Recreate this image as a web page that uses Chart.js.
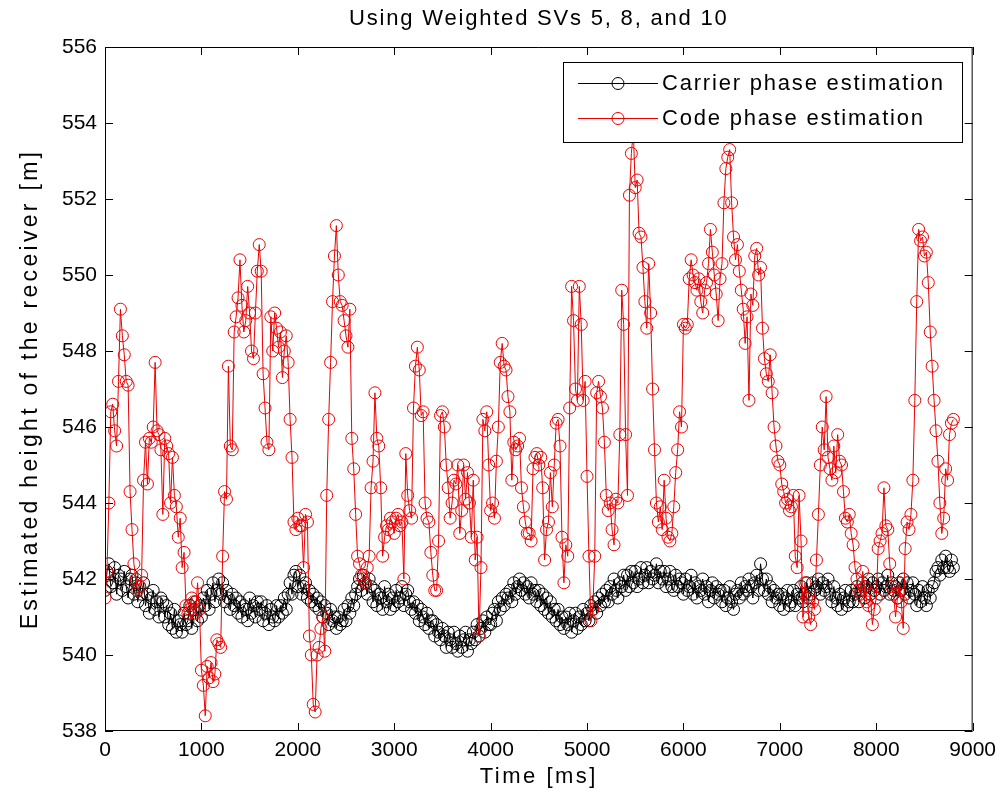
<!DOCTYPE html>
<html>
<head>
<meta charset="utf-8">
<script src="https://cdn.jsdelivr.net/npm/chart.js@4.4.1/dist/chart.umd.min.js"></script>
<style>
  html, body { margin: 0; padding: 0; background: #fff; }
  #plot { display: block; }
</style>
</head>
<body>
<canvas id="plot" width="1003" height="800"></canvas>
<script>
// sampled every 20 ms, 0 .. 8800 ms
const SAMPLE_MS = 20;

const carrierPhase = [
  541.7, 542.2, 542.4, 541.8, 541.9, 542.3, 541.6, 542.1, 542.0, 541.7,
  542.2, 541.8, 541.5, 542.0, 542.1, 541.6, 541.9, 541.4, 541.8, 541.6,
  541.9, 541.3, 541.6, 541.1, 541.5, 541.7, 541.2, 541.4, 541.0, 541.5,
  541.4, 541.0, 541.3, 540.8, 541.1, 540.7, 541.2, 540.6, 540.9, 540.8,
  540.6, 541.1, 540.8, 540.9, 541.3, 540.7, 541.2, 541.4, 540.9, 541.3,
  541.0, 541.5, 541.3, 541.7, 541.2, 541.6, 541.9, 541.4, 541.7, 542.0,
  541.6, 541.9, 541.4, 541.7, 541.5, 541.2, 541.6, 541.3, 541.5, 541.1,
  541.4, 541.0, 541.3, 541.2, 540.9, 541.5, 541.1, 541.3, 541.0, 541.4,
  541.2, 541.4, 540.9, 541.1, 541.3, 540.8, 541.2, 541.0, 540.9, 541.3,
  541.0, 541.3, 541.1, 541.5, 541.2, 541.6, 541.9, 541.6, 542.1, 542.2,
  541.8, 542.1, 541.6, 541.8, 541.9, 541.5, 541.7, 541.4, 541.6, 541.3,
  541.5, 541.2, 541.4, 541.0, 541.3, 541.1, 540.8, 541.2, 540.9, 541.0,
  540.7, 541.0, 540.8, 540.9, 541.2, 540.9, 541.3, 541.1, 541.5, 541.3,
  541.6, 541.8, 542.0, 541.7, 542.1, 541.9, 541.6, 542.0, 541.8, 541.4,
  541.7, 541.3, 541.6, 541.5, 541.2, 541.8, 541.4, 541.6, 541.2, 541.5,
  541.3, 541.7, 541.4, 541.5, 541.8, 541.3, 541.6, 541.7, 541.4, 541.2,
  541.4, 541.1, 541.3, 540.9, 541.2, 541.0, 540.8, 541.1, 540.7, 540.9,
  540.9, 540.5, 540.8, 540.6, 540.4, 540.7, 540.5, 540.2, 540.6, 540.4,
  540.2, 540.6, 540.3, 540.1, 540.5, 540.2, 540.4, 540.6, 540.1, 540.4,
  540.3, 540.6, 540.4, 540.8, 540.5, 540.7, 540.9, 540.6, 541.0, 540.8,
  540.8, 541.1, 541.2, 540.9, 541.4, 541.2, 541.5, 541.3, 541.6, 541.5,
  541.7, 541.4, 541.9, 541.6, 541.8, 542.0, 541.7, 541.9, 541.6, 541.8,
  541.5, 541.9, 541.6, 541.7, 541.4, 541.7, 541.3, 541.6, 541.2, 541.5,
  541.1, 541.4, 541.0, 541.2, 540.9, 541.2, 540.8, 541.0, 540.7, 541.0,
  540.8, 541.1, 540.6, 540.9, 541.1, 540.7, 541.0, 540.8, 541.2, 540.9,
  541.1, 540.9, 541.3, 541.2, 541.4, 541.1, 541.5, 541.3, 541.6, 541.4,
  541.7, 541.4, 541.8, 541.6, 542.0, 541.7, 541.5, 541.9, 541.8, 542.1,
  541.7, 542.1, 541.8, 542.2, 541.9, 542.2, 541.8, 542.0, 542.3, 541.9,
  542.1, 542.3, 541.9, 542.2, 542.0, 542.1, 542.4, 541.9, 542.2, 542.0,
  542.2, 541.8, 542.0, 542.2, 541.8, 541.7, 542.1, 541.8, 542.0, 541.9,
  541.6, 542.0, 541.7, 541.8, 542.1, 541.6, 541.9, 541.5, 541.8, 541.7,
  542.0, 541.6, 541.8, 541.4, 541.7, 541.9, 541.5, 541.8, 541.6, 541.7,
  541.4, 541.7, 541.3, 541.5, 541.8, 541.4, 541.2, 541.6, 541.7, 541.5,
  541.9, 541.6, 541.8, 541.7, 542.0, 541.8, 541.5, 541.9, 542.1, 541.7,
  542.4, 542.0, 541.7, 542.0, 541.6, 541.8, 541.4, 541.7, 541.5, 541.6,
  541.3, 541.6, 541.2, 541.5, 541.7, 541.3, 541.4, 541.7, 541.3, 541.6,
  541.5, 541.8, 541.4, 541.6, 541.9, 541.5, 541.6, 541.9, 541.7, 541.8,
  542.0, 541.6, 541.9, 541.7, 541.8, 542.0, 541.6, 541.4, 541.8, 541.5,
  541.3, 541.6, 541.2, 541.5, 541.7, 541.3, 541.4, 541.7, 541.4, 541.6,
  541.8, 541.4, 541.7, 541.9, 541.5, 541.8, 542.0, 541.6, 541.9, 541.7,
  541.8, 542.0, 541.6, 541.9, 541.7, 541.8, 542.1, 541.6, 541.9, 541.7,
  541.8, 541.5, 541.9, 541.7, 542.0, 541.6, 541.9, 541.5, 541.7, 541.9,
  541.6, 541.3, 541.7, 541.4, 541.8, 541.5, 541.3, 541.7, 541.5, 541.8,
  541.9, 542.2, 542.3, 542.1, 542.5, 542.3, 542.6, 542.3, 542.2, 542.5,
  542.3
];

const codePhase = [
  541.5, 542.2, 544.0, 546.4, 546.6, 545.9, 545.5, 547.2, 549.1, 548.4,
  547.9, 547.2, 547.1, 544.3, 543.3, 542.4, 542.0, 541.7, 541.8, 542.1,
  544.6, 545.6, 544.5, 545.7, 545.6, 546.0, 547.7, 545.9, 545.8, 545.4,
  543.7, 545.7, 545.5, 545.3, 544.0, 545.2, 544.2, 543.9, 543.1, 543.6,
  542.3, 542.7, 541.3, 541.1, 541.2, 541.5, 541.4, 541.1, 541.9, 541.2,
  539.6, 539.2, 538.4, 539.7, 539.4, 539.8, 539.3, 539.5, 540.4, 540.3,
  540.2, 542.6, 544.3, 544.1, 547.6, 545.5, 545.4, 548.5, 548.9, 549.4,
  550.4, 549.2, 548.5, 548.8, 549.7, 549.0, 548.0, 547.8, 549.0, 550.1,
  550.8, 550.1, 547.4, 546.5, 545.6, 545.4, 548.9, 548.0, 549.0, 548.6,
  548.1, 548.5, 547.3, 548.0, 548.4, 547.7, 546.2, 545.2, 543.5, 543.3,
  543.6, 543.4, 543.4, 542.3, 543.7, 543.5, 540.5, 540.0, 538.7, 538.5,
  540.0, 540.2, 540.7, 541.0, 540.1, 544.2, 546.2, 547.7, 549.3, 550.5,
  551.3, 550.0, 549.3, 549.2, 548.8, 548.4, 548.1, 549.1, 545.7, 544.9,
  543.7, 542.6, 542.4, 542.1, 542.0, 541.9, 542.3, 542.6, 544.4, 545.1,
  546.9, 545.7, 545.5, 544.4, 542.6, 543.1, 543.4, 543.3, 543.6, 543.5,
  543.2, 543.6, 543.7, 543.4, 543.5, 542.0, 545.3, 544.2, 543.8, 543.6,
  546.5, 547.6, 548.1, 547.5, 546.3, 546.4, 544.0, 543.6, 543.5, 542.7,
  542.1, 541.7, 541.7, 543.0, 546.3, 546.4, 546.0, 545.0, 544.4, 543.6,
  544.0, 544.6, 544.5, 545.0, 543.2, 543.8, 545.0, 544.1, 544.8, 544.0,
  543.1, 544.6, 542.5, 543.1, 540.5, 542.3, 546.2, 545.9, 546.4, 545.0,
  543.8, 544.0, 543.6, 545.1, 546.0, 547.7, 548.2, 547.6, 547.5, 546.8,
  546.4, 544.6, 545.6, 545.4, 545.5, 545.7, 544.4, 543.9, 543.5, 543.2,
  543.2, 543.0, 544.9, 545.2, 545.3, 545.0, 545.2, 544.4, 542.5, 543.3,
  543.5, 544.8, 543.9, 545.0, 546.1, 546.2, 545.5, 543.1, 541.9, 542.9,
  542.6, 546.5, 549.7, 548.8, 547.0, 546.7, 549.7, 548.7, 546.7, 547.2,
  544.7, 542.6, 540.9, 541.2, 542.6, 546.9, 547.2, 546.8, 546.5, 545.6,
  544.2, 543.8, 544.0, 543.3, 542.9, 544.1, 544.0, 545.8, 549.6, 548.7,
  545.8, 544.2, 552.1, 553.2, 553.8, 552.3, 552.5, 551.1, 551.0, 550.2,
  549.3, 548.6, 550.3, 549.0, 547.0, 545.4, 544.0, 543.5, 543.9, 543.3,
  544.6, 543.6, 543.1, 543.0, 543.2, 543.9, 544.8, 545.4, 546.4, 546.0,
  548.7, 548.6, 548.7, 549.9, 550.4, 550.0, 549.8, 549.6, 549.9, 549.3,
  549.0, 549.6, 549.8, 550.3, 551.2, 550.6, 550.0, 549.5, 548.8, 549.9,
  550.3, 551.9, 552.8, 553.1, 553.3, 551.9, 551.0, 550.4, 550.8, 550.1,
  549.6, 549.1, 548.2, 548.9, 546.7, 549.5, 549.2, 550.5, 550.7, 550.0,
  550.2, 548.6, 547.8, 547.4, 547.2, 547.9, 546.9, 546.0, 545.5, 545.1,
  545.0, 544.5, 544.3, 544.0, 544.1, 543.8, 543.9, 544.2, 542.6, 542.3,
  544.2, 543.0, 541.0, 541.9, 541.5, 541.0, 540.8, 541.4, 541.2, 542.5,
  543.7, 545.0, 546.0, 545.4, 546.8, 545.2, 544.9, 544.6, 545.5, 544.8,
  545.8, 545.1, 545.0, 544.3, 543.6, 543.5, 543.7, 543.2, 542.9, 542.3,
  542.0, 541.7, 541.6, 542.2, 541.8, 541.4, 541.3, 541.6, 540.8, 541.2,
  541.5, 542.8, 543.0, 543.2, 544.4, 543.4, 543.3, 542.4, 541.8, 541.6,
  541.0, 541.5, 541.9, 541.4, 540.7, 542.8, 543.5, 543.3, 543.7, 544.6,
  546.7, 549.3, 551.2, 550.9, 551.0, 550.5, 550.6, 549.8, 548.5, 547.6,
  546.7, 545.9, 545.1, 544.0, 543.2, 543.6, 544.9, 544.6, 545.8, 546.1,
  546.2
];

const timeMs = carrierPhase.map((_, i) => i * SAMPLE_MS);

const xTicks = [0, 1000, 2000, 3000, 4000, 5000, 6000, 7000, 8000, 9000];
const yTicks = [538, 540, 542, 544, 546, 548, 550, 552, 554, 556];

const seriesNames = ['Carrier phase estimation', 'Code phase estimation'];
const chartTitle = 'Using Weighted SVs 5, 8, and 10';
const xTitle = 'Time [ms]';
const yTitle = 'Estimated height of the receiver [m]';

const FONT = '"Liberation Sans", Arial, Helvetica, sans-serif';
const RED = 'rgb(235,0,0)';

function toPoints(values) {
  return values.map((v, i) => ({ x: timeMs[i], y: v }));
}

// box, inward ticks, titles and legend drawn like a matlab figure
const matlabFrame = {
  id: 'matlabFrame',
  afterDraw(chart) {
    const ctx = chart.ctx;
    const area = chart.chartArea;
    const xs = chart.scales.x;
    const ys = chart.scales.y;
    ctx.save();
    ctx.strokeStyle = '#000';
    ctx.lineWidth = 1;
    ctx.beginPath();
    ctx.rect(area.left + 0.5, area.top + 0.5, area.right - area.left - 1, area.bottom - area.top - 1);
    ctx.stroke();

    const tl = 8;
    ctx.beginPath();
    xTicks.forEach(t => {
      const px = Math.round(xs.getPixelForValue(t)) + 0.5;
      ctx.moveTo(px, area.bottom);
      ctx.lineTo(px, area.bottom - tl);
      ctx.moveTo(px, area.top);
      ctx.lineTo(px, area.top + tl);
    });
    yTicks.forEach(t => {
      const py = Math.round(ys.getPixelForValue(t)) + 0.5;
      ctx.moveTo(area.left, py);
      ctx.lineTo(area.left + tl, py);
      ctx.moveTo(area.right, py);
      ctx.lineTo(area.right - tl, py);
    });
    ctx.stroke();

    ctx.fillStyle = '#000';
    ctx.textAlign = 'center';
    ctx.textBaseline = 'middle';
    const cx = (area.left + area.right) / 2;
    const cy = (area.top + area.bottom) / 2;
    ctx.font = '22px ' + FONT;
    ctx.letterSpacing = '1.8px';
    ctx.fillText(chartTitle, cx, 19);
    ctx.letterSpacing = '2.5px';
    ctx.fillText(xTitle, cx, 777);
    ctx.save();
    ctx.translate(31, cy);
    ctx.rotate(-Math.PI / 2);
    ctx.font = '23px ' + FONT;
    ctx.letterSpacing = '3.3px';
    ctx.fillText(yTitle, 0, 0);
    ctx.restore();

    // legend
    const lx = 563, ly = 62, lw = 399, lh = 80;
    ctx.fillStyle = '#fff';
    ctx.fillRect(lx, ly, lw, lh);
    ctx.strokeStyle = '#000';
    ctx.strokeRect(lx + 0.5, ly + 0.5, lw, lh);
    const rows = [83, 118];
    const colors = ['#000', RED];
    ctx.textAlign = 'left';
    ctx.font = '22px ' + FONT;
    ctx.letterSpacing = '1.8px';
    rows.forEach((ry, i) => {
      ctx.strokeStyle = colors[i];
      ctx.beginPath();
      ctx.moveTo(578, ry + 0.5);
      ctx.lineTo(658, ry + 0.5);
      ctx.stroke();
      ctx.beginPath();
      ctx.arc(618, ry + 0.5, 6, 0, Math.PI * 2);
      ctx.stroke();
      ctx.fillStyle = '#000';
      ctx.fillText(seriesNames[i], 662, ry + 1);
    });
    ctx.restore();
  }
};

const lineStyle = color => ({
  borderColor: color,
  borderWidth: 1,
  pointStyle: 'circle',
  pointRadius: 6,
  pointBorderWidth: 1,
  pointBorderColor: color,
  pointBackgroundColor: 'rgba(0,0,0,0)',
  tension: 0,
  fill: false
});

new Chart(document.getElementById('plot'), {
  type: 'line',
  data: {
    datasets: [
      Object.assign({ label: seriesNames[0], data: toPoints(carrierPhase), order: 1 }, lineStyle('#000')),
      Object.assign({ label: seriesNames[1], data: toPoints(codePhase), order: 0 }, lineStyle(RED))
    ]
  },
  options: {
    responsive: false,
    animation: false,
    devicePixelRatio: 1,
    layout: { padding: { top: 47, right: 27, left: 0, bottom: 0 } },
    plugins: {
      legend: { display: false },
      title: { display: false },
      tooltip: { enabled: false }
    },
    scales: {
      x: {
        type: 'linear',
        min: 0,
        max: 9000,
        afterBuildTicks: s => { s.ticks = xTicks.map(v => ({ value: v })); },
        ticks: {
          font: { family: FONT, size: 21 }, color: '#000', padding: 7,
          maxRotation: 0, autoSkip: false, callback: v => String(v)
        },
        grid: { display: false, drawTicks: false },
        border: { display: false },
        afterFit: s => { s.height = 69; }
      },
      y: {
        type: 'linear',
        min: 538,
        max: 556,
        afterBuildTicks: s => { s.ticks = yTicks.map(v => ({ value: v })); },
        ticks: { font: { family: FONT, size: 21 }, color: '#000', padding: 8, autoSkip: false, callback: v => String(v) },
        grid: { display: false, drawTicks: false },
        border: { display: false },
        afterFit: s => { s.width = 105; }
      }
    }
  },
  plugins: [matlabFrame]
});
</script>
</body>
</html>
